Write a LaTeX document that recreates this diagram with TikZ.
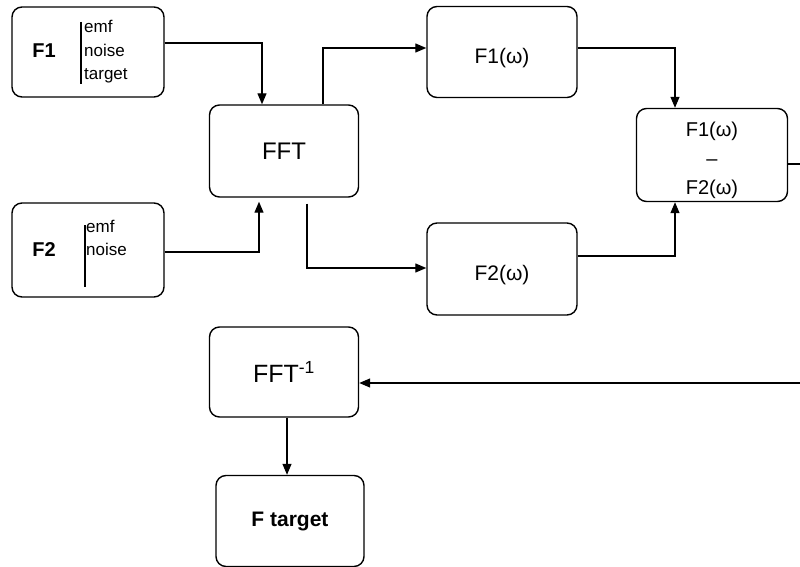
\documentclass[tikz,border=0pt]{standalone}
\usepackage{fontspec}
\setmainfont{Liberation Sans}
\usetikzlibrary{arrows.meta}

\begin{document}
\begin{tikzpicture}[x=1pt, y=-1pt,
    block/.style={draw, line width=1.4pt, rounded corners=10pt, inner sep=0pt, align=center},
    wire/.style={line width=1.2pt},
    arr/.style={wire, -{Triangle[length=11pt, width=9pt]}}]
\useasboundingbox (0,0) rectangle (800,567);

% Input signals
\node[block, minimum width=152pt, minimum height=90pt] (f1) at (88,52) {};
\node[font=\bfseries\fontsize{20}{22}\selectfont] (f1name) at (44,51) {F1};
\draw[line width=1.1pt] (81,22) -- (81,84);
\node[anchor=west, align=left, inner sep=0pt, font=\fontsize{17}{23.5}\selectfont] (f1parts) at (84,52) {emf\\noise\\target};

\node[block, minimum width=152pt, minimum height=94pt] (f2) at (88,250) {};
\node[font=\bfseries\fontsize{20}{22}\selectfont] (f2name) at (44,250) {F2};
\draw[line width=1.1pt] (85,225) -- (85,287);
\node[anchor=west, align=left, inner sep=0pt, font=\fontsize{17}{23.5}\selectfont] (f2parts) at (86,238) {emf\\noise};

% Transform and spectra
\node[block, minimum width=149pt, minimum height=92pt, font=\fontsize{24}{26}\selectfont] (fft) at (284,151) {FFT};
\node[block, minimum width=150pt, minimum height=91pt, font=\fontsize{21}{23}\selectfont] (fw1) at (502,52) {\raisebox{-6pt}[\height][\depth]{F1(ω)}};
\node[block, minimum width=150pt, minimum height=92pt, font=\fontsize{21}{23}\selectfont] (fw2) at (502,269) {\raisebox{-6pt}[\height][\depth]{F2(ω)}};
\node[block, minimum width=151pt, minimum height=93pt, font=\fontsize{20}{27}\selectfont] (diff) at (712,155) {\raisebox{-5pt}[\height][\depth]{\begin{tabular}{@{}c@{}}F1(ω)\\[2pt]–\\[2pt]F2(ω)\end{tabular}}};

% Inverse transform and output
\node[block, minimum width=149pt, minimum height=90pt, font=\fontsize{25}{27}\selectfont] (ifft) at (284,372) {FFT\textsuperscript{-1}};
\node[block, minimum width=148pt, minimum height=91pt, font=\bfseries\fontsize{21}{23}\selectfont] (ftarget) at (290,521) {F target};
\coordinate (turn) at (812,383);

% Connections
\draw[arr] ([yshift=9pt]f1.east) -| ([xshift=-22pt]fft.north);
\draw[arr, shorten >=4pt] ([yshift=-2pt]f2.east) -| ([xshift=-25pt]fft.south);
\draw[arr] ([xshift=39pt]fft.north) |- ([yshift=4pt]fw1.west);
\draw[arr] ([xshift=23pt, yshift=-6pt]fft.south) |- ([yshift=1pt]fw2.west);
\draw[arr] ([yshift=4pt]fw1.east) -| ([xshift=-37pt]diff.north);
\draw[arr] ([yshift=13pt]fw2.east) -| ([xshift=-37pt]diff.south);
\draw[arr] ([yshift=-9pt]diff.east) -| (turn) -- (turn -| ifft.east);
\draw[arr] ([xshift=3pt]ifft.south) -- ([xshift=-3pt]ftarget.north);

\end{tikzpicture}
\end{document}
